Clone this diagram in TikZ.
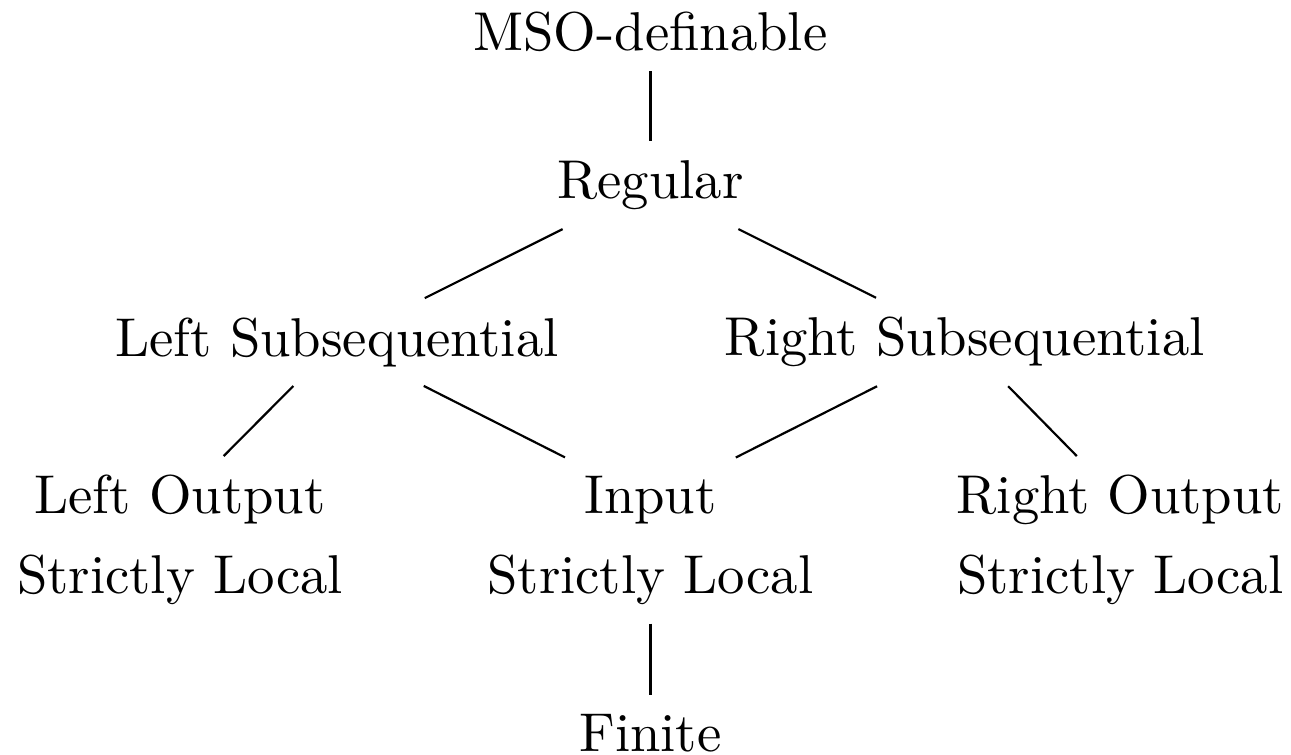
\documentclass[tikz,border=0pt]{standalone}
\usepackage{tikz}

\begin{document}
\begin{tikzpicture}[line/.style={anchor=base}]
      \useasboundingbox (0,0) rectangle (8.297,-4.852);

      \node (mso) at (4.18, -0.205) {MSO-definable};
      \node (reg) at (4.18, -1.19) {Regular};

      \node (lsub) at (2.166, -2.198) {Left Subsequential};
      \node (rsub) at (6.20,  -2.198) {Right Subsequential};

      \node[line] (lo)   at (1.157, -3.303) {Left Output};
      \node[line] (losl) at (1.157, -3.811) {Strictly Local};
      \node[line] (in)   at (4.18,  -3.303) {Input};
      \node[line] (isl)  at (4.18,  -3.811) {Strictly Local};
      \node[line] (ro)   at (7.20,  -3.303) {Right Output};
      \node[line] (rosl) at (7.20,  -3.811) {Strictly Local};

      \node (fin) at (4.18, -4.715) {Finite};

      \draw (mso) to (reg);
      \draw (reg) to (lsub);
      \draw (reg) to (rsub);
      \draw (lsub) to (lo);
      \draw (lsub) to (in);
      \draw (rsub) to (in);
      \draw (rsub) to (ro);
      \draw (isl) to (fin);
    \end{tikzpicture}
\end{document}
